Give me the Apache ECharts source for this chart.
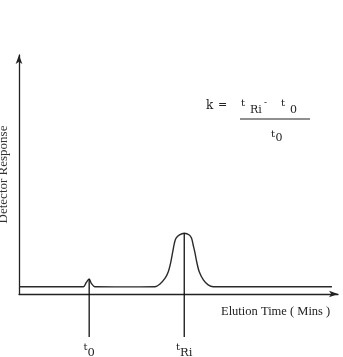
<!DOCTYPE html>
<html><head><meta charset="utf-8">
<script src="https://cdn.jsdelivr.net/npm/echarts@6/dist/echarts.min.js"></script>
<style>html,body{margin:0;padding:0;background:#fff}#c{width:343px;height:357px}</style>
</head><body><div id="c"></div>
<script>
// Chromatogram trace (elution time, detector response)
const traceX = [0, 10, 20.2, 21.0, 22.0, 22.7, 23.8, 30, 38, 42.6, 44.2, 45.8, 46.8, 47.5, 48.2, 48.7, 49.2, 50.3, 51.8, 53.4, 54.1, 54.6, 55.2, 55.7, 56.5, 57.8, 59.3, 60.9, 70, 85, 98.1];
const traceY = [3.05, 3.05, 3.05, 4.6, 6.3, 4.4, 3.05, 3.0, 3.0, 3.05, 4.2, 6.6, 9.3, 12.8, 17.7, 21.2, 23.3, 24.7, 25.4, 24.7, 23.3, 20.5, 17.0, 13.5, 9.3, 5.9, 3.8, 3.05, 3.05, 3.05, 3.05];
// Retention markers
const markerNames = ['t0', 'tRi'];
const markerX = [22.0, 51.8];
const markerTop = [6.3, 25.4];
const markerBottom = -18.0;

const chart = echarts.init(document.getElementById('c'));
const serif = 'Liberation Serif';
const mono = 'DejaVu Serif';

const series = [{
  type: 'line',
  data: traceX.map((x, i) => [x, traceY[i]]),
  smooth: 0.3,
  symbol: 'none',
  lineStyle: { color: '#2a2a2a', width: 1.4 },
  silent: true
}];
markerNames.forEach((n, i) => {
  const sub = n.slice(1);
  series.push({
    type: 'line',
    clip: false,
    symbol: 'circle',
    symbolSize: 1,
    showSymbol: true,
    itemStyle: { color: 'rgba(0,0,0,0)' },
    silent: true,
    lineStyle: { color: '#111', width: 1.3 },
    data: [[markerX[i], markerTop[i]], {
      value: [markerX[i], markerBottom],
      label: {
        show: true,
        position: 'bottom',
        distance: 5,
        formatter: '{t|t}{s|' + sub + '}',
        rich: {
          t: { fontFamily: mono, fontSize: 10, color: '#222', verticalAlign: 'top', lineHeight: 16 },
          s: { fontFamily: mono, fontSize: 11.5, color: '#222', verticalAlign: 'bottom', lineHeight: 16, padding: [6, 0, 0, 0] }
        }
      }
    }]
  });
});

chart.setOption({
  animation: false,
  grid: { left: 19, right: 5, top: 55, bottom: 63, containLabel: false, outerBoundsMode: 'none' },
  xAxis: {
    type: 'value', min: 0, max: 100,
    axisLine: { show: true, onZero: false, symbol: ['none', 'arrow'], symbolSize: [5, 9], symbolOffset: [0, 0], lineStyle: { color: '#222', width: 1.3 } },
    axisTick: { show: false }, axisLabel: { show: false }, splitLine: { show: false }
  },
  yAxis: {
    type: 'value', min: 0, max: 100,
    name: 'Detector Response', nameLocation: 'middle', nameGap: 9, nameRotate: 90,
    nameTextStyle: { fontFamily: serif, fontSize: 13, color: '#333' },
    axisLine: { show: true, symbol: ['none', 'arrow'], symbolSize: [5, 9], lineStyle: { color: '#222', width: 1.3 } },
    axisTick: { show: false }, axisLabel: { show: false }, splitLine: { show: false }
  },
  series: series,
  graphic: [
    { type: 'text', left: 221, top: 305, style: { text: 'Elution Time ( Mins )', font: '12.5px "Liberation Serif"', fill: '#222' } },
    { type: 'text', left: 206, top: 100, style: { text: 'k', font: '12px "DejaVu Serif"', fill: '#222' } },
    { type: 'text', left: 218, top: 100, style: { text: '=', font: '11px "DejaVu Serif"', fill: '#222' } },
    { type: 'text', left: 241, top: 98, style: { text: 't', font: '10px "DejaVu Serif"', fill: '#222' } },
    { type: 'text', left: 250, top: 104.5, style: { text: 'Ri', font: '11px "DejaVu Serif"', fill: '#222' } },
    { type: 'text', left: 264, top: 98, style: { text: '-', font: '9px "DejaVu Serif"', fill: '#222' } },
    { type: 'text', left: 281, top: 98, style: { text: 't', font: '10px "DejaVu Serif"', fill: '#222' } },
    { type: 'text', left: 290, top: 104.5, style: { text: '0', font: '11px "DejaVu Serif"', fill: '#222' } },
    { type: 'line', shape: { x1: 240, y1: 119, x2: 310, y2: 119 }, style: { stroke: '#222', lineWidth: 1.2 } },
    { type: 'text', left: 271, top: 129, style: { text: 't', font: '10px "DejaVu Serif"', fill: '#222' } },
    { type: 'text', left: 275.5, top: 133, style: { text: '0', font: '11px "DejaVu Serif"', fill: '#222' } }
  ]
});
</script></body></html>
